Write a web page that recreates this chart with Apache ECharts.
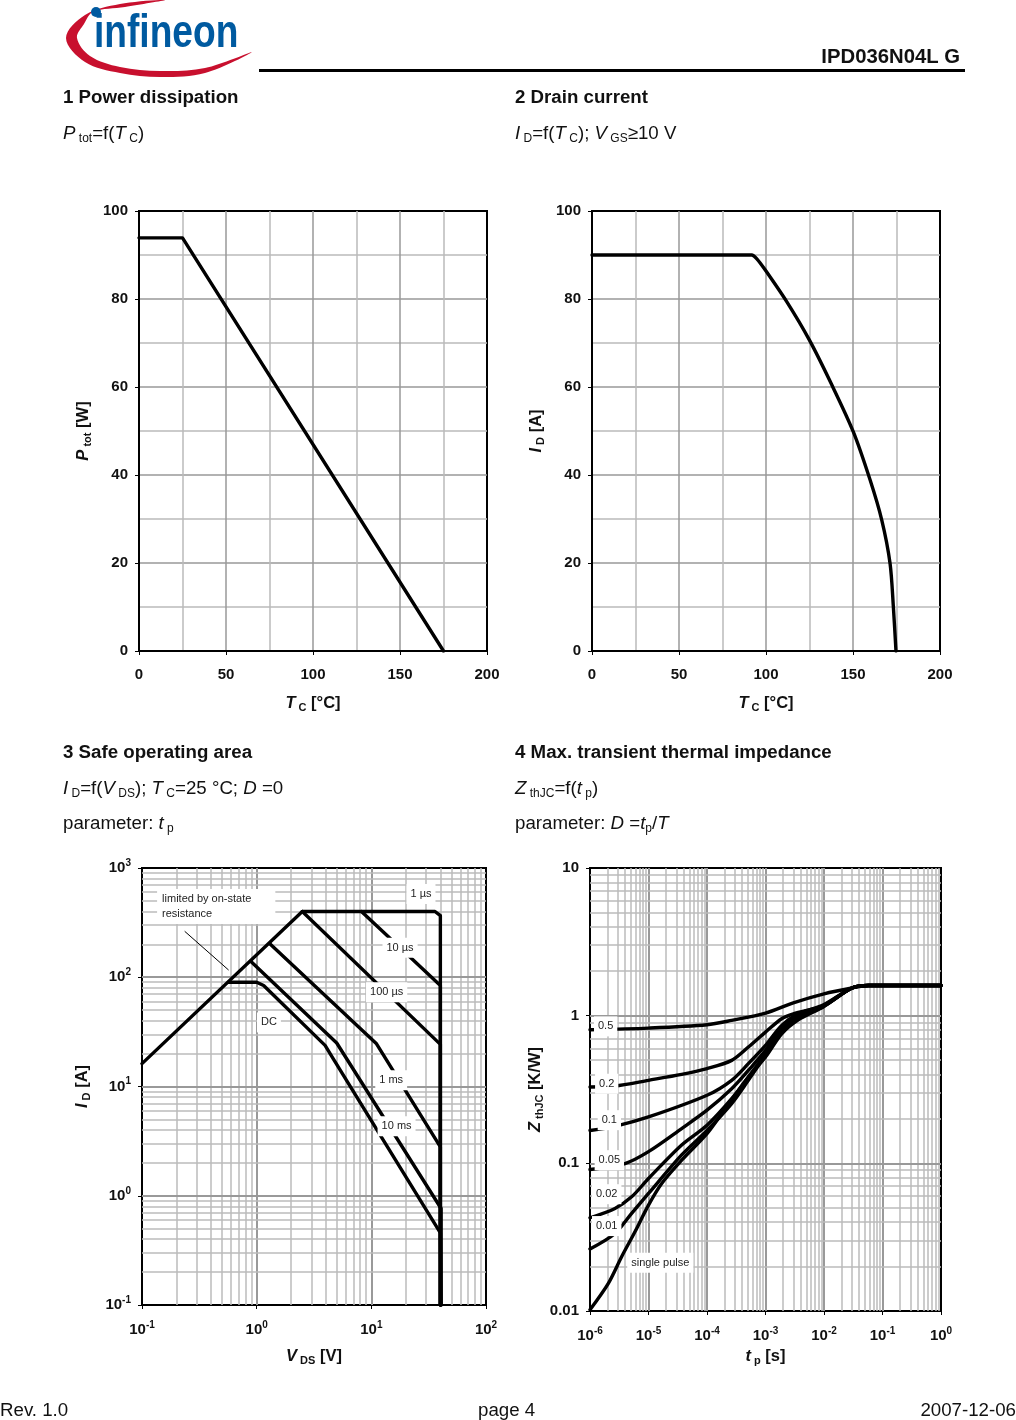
<!DOCTYPE html>
<html>
<head>
<meta charset="utf-8">
<style>
    html, body {margin: 0; padding: 0; background: #fff;}
    #chart {width: 1016px; height: 1420px;}
</style>
<script src="https://cdn.jsdelivr.net/npm/echarts@6/dist/echarts.min.js"></script>
</head>
<body>
<div id="chart"></div>
<script>
(function () {
    'use strict';

    // 1 power dissipation, [Tc, Ptot]
    var ptotCurve = [[0, 93.9], [25, 93.9], [175, 0]];
    // 2 drain current, [Tc, Id]
    var idCurve = [[0, 90], [91.8, 90], [94.6, 89.2], [99.4, 86.7], [111.9, 79.4], [124.9, 70.7],
        [137.8, 60.5], [150.2, 49.8], [159.8, 38.9], [166.5, 29.8], [171.3, 19.9], [173.2, 10], [174.7, 0]];

    // 3 safe operating area, [Vds, Id]
    var soaLimit = [[0.1, 16.2], [2.5, 400]];
    var soa1us = [[2.5, 400], [35.9, 400], [40, 366], [40, 0.1]];
    var soa10us = [[8.2, 400], [40, 84], [40, 0.1]];
    var soa100us = [[2.5, 400], [40, 24.3], [40, 0.1]];
    var soa1ms = [[1.31, 202], [11.1, 24.6], [40, 2.8], [40, 0.1]];
    var soa10ms = [[0.887, 140], [4.99, 25], [40.6, 0.764], [40.6, 0.1]];
    var soaDc = [[0.566, 90], [1, 90], [1.15, 84], [3.95, 23.8], [4.66, 17.9], [40, 0.458], [40.6, 0.1]];
    var soaPointer = [[0.237, 262], [0.566, 117]];
    var soaLabels = ['1 µs', '10 µs', '100 µs', '1 ms', '10 ms', 'DC'];
    var soaLabelPos = [[27.1, 578], [17.8, 186], [13.6, 73], [14.9, 11.4], [16.6, 4.33], [1.28, 38.6]];
    var soaNote = 'limited by on-state\nresistance';
    var soaNotePos = [0.134, 444];

    // 4 transient thermal impedance, [tp, Zth]
    var zth05 = [[1e-6, 0.803], [1e-5, 0.824], [1e-4, 0.868], [2.64e-4, 0.929], [1e-3, 1.041], [2.99e-3, 1.222],
        [1e-2, 1.406], [3.01e-2, 1.54], [5.73e-2, 1.6], [0.1, 1.6], [1, 1.6]];
    var zth02 = [[1e-6, 0.329], [2.67e-6, 0.334], [1e-5, 0.365], [3.69e-5, 0.4], [1e-4, 0.438], [2.64e-4, 0.498],
        [5.09e-4, 0.613], [1e-3, 0.774], [1.89e-3, 0.953], [2.99e-3, 1.03], [1e-2, 1.173], [3.01e-2, 1.54],
        [5.73e-2, 1.6], [0.1, 1.6], [1, 1.6]];
    var zth01 = [[1e-6, 0.167], [2.67e-6, 0.178], [1e-5, 0.206], [1e-4, 0.289], [2.64e-4, 0.365], [5.09e-4, 0.473],
        [1e-3, 0.629], [1.89e-3, 0.859], [3.64e-3, 1.03], [1e-2, 1.191], [3.01e-2, 1.54], [5.73e-2, 1.6], [0.1, 1.6], [1, 1.6]];
    var zth005 = [[1e-6, 0.0908], [3.96e-6, 0.0997], [1e-5, 0.12], [3.69e-5, 0.172], [1e-4, 0.229], [2.64e-4, 0.32],
        [5.09e-4, 0.426], [1e-3, 0.582], [1.89e-3, 0.837], [3.64e-3, 1.004], [1e-2, 1.173], [3.01e-2, 1.54],
        [5.73e-2, 1.6], [0.1, 1.6], [1, 1.6]];
    var zth002 = [[1e-6, 0.0428], [2.67e-6, 0.0495], [5.15e-6, 0.0593], [1e-5, 0.0789], [3.69e-5, 0.133], [1e-4, 0.181],
        [2.64e-4, 0.274], [5.09e-4, 0.384], [1e-3, 0.553], [1.89e-3, 0.795], [3.64e-3, 0.978], [1e-2, 1.173],
        [3.01e-2, 1.54], [5.73e-2, 1.6], [0.1, 1.6], [1, 1.6]];
    var zth001 = [[1e-6, 0.0263], [2.67e-6, 0.0335], [5.15e-6, 0.0458], [1e-5, 0.0625], [3.69e-5, 0.114], [1e-4, 0.167],
        [2.64e-4, 0.254], [5.09e-4, 0.365], [1e-3, 0.538], [1.89e-3, 0.774], [3.64e-3, 0.953], [1e-2, 1.161],
        [3.01e-2, 1.54], [5.73e-2, 1.6], [0.1, 1.6], [1, 1.6]];
    var zthSingle = [[1e-6, 0.0102], [2.06e-6, 0.0154], [3.47e-6, 0.0233], [5.87e-6, 0.0344], [1e-5, 0.0521], [1.68e-5, 0.073],
        [3.69e-5, 0.105], [1e-4, 0.159], [1.78e-4, 0.217], [3.01e-4, 0.289], [5.09e-4, 0.384], [1e-3, 0.525],
        [1.89e-3, 0.754], [3.64e-3, 0.938], [1e-2, 1.155], [3.01e-2, 1.54], [5.73e-2, 1.6], [0.1, 1.6], [1, 1.6]];
    var zthCurves = [zth05, zth02, zth01, zth005, zth002, zth001, zthSingle];
    var zthLabels = ['0.5', '0.2', '0.1', '0.05', '0.02', '0.01', 'single pulse'];
    var zthLabelPos = [[1.85e-6, 0.846], [1.93e-6, 0.346], [2.14e-6, 0.196], [2.14e-6, 0.105],
        [1.93e-6, 0.0618], [1.93e-6, 0.0376], [1.59e-5, 0.0212]];

    var FONT = '"Liberation Sans", Arial, sans-serif';
    var MAJOR = '#999999';
    var MINOR = '#bbbbbb';
    var CURVE_WIDTH = 3.4;

    var nameRich = {
        b: {fontFamily: FONT, fontSize: 16.5, fontWeight: 'bold', lineHeight: 20, color: '#111'},
        i: {fontFamily: FONT, fontSize: 16.5, fontWeight: 'bold', fontStyle: 'italic', lineHeight: 20, color: '#111'},
        s: {fontFamily: FONT, fontSize: 11, fontWeight: 'bold', lineHeight: 13, verticalAlign: 'bottom', color: '#111'}
    };
    var tickRich = {
        b: {fontFamily: FONT, fontSize: 15, fontWeight: 'bold', lineHeight: 20, color: '#111'},
        p: {fontFamily: FONT, fontSize: 10, fontWeight: 'bold', lineHeight: 12, verticalAlign: 'top', color: '#111'}
    };
    var headRich = {
        r: {fontFamily: FONT, fontSize: 18.7, fontWeight: 'normal', lineHeight: 22, color: '#111'},
        i: {fontFamily: FONT, fontSize: 18.7, fontWeight: 'normal', fontStyle: 'italic', lineHeight: 22, color: '#111'},
        s: {fontFamily: FONT, fontSize: 12, fontWeight: 'normal', lineHeight: 13, verticalAlign: 'bottom', color: '#111'}
    };

    function powerLabel(value) {
        var exp = Math.round(Math.log(value) / Math.LN10);
        return '{b|10}{p|' + exp + '}';
    }

    function plainLabel(value) {
        var exp = Math.round(Math.log(value) / Math.LN10);
        return '{b|' + (exp < 0 ? value.toFixed(-exp) : Math.pow(10, exp)) + '}';
    }

    function buildAxis(gridIndex, cfg) {
        var axis = {
            gridIndex: gridIndex,
            type: cfg.log ? 'log' : 'value',
            min: cfg.min,
            max: cfg.max,
            name: cfg.name,
            nameLocation: 'middle',
            nameGap: cfg.nameGap,
            nameTextStyle: {rich: nameRich},
            axisLine: {show: true, onZero: false, lineStyle: {color: '#000', width: 2}},
            axisTick: {show: true, length: 4, lineStyle: {color: '#000', width: 1}},
            axisLabel: {
                margin: cfg.margin,
                hideOverlap: false,
                showMinLabel: true,
                showMaxLabel: true,
                formatter: cfg.formatter || '{b|{value}}',
                rich: tickRich
            }
        };
        if (cfg.log) {
            axis.logBase = 10;
            axis.splitLine = {show: false};
        } else {
            axis.interval = cfg.interval;
            axis.splitLine = {show: true, showMinLine: false, showMaxLine: false, lineStyle: {color: MAJOR, width: 1.5}};
            axis.minorTick = {show: false, splitNumber: 2};
            axis.minorSplitLine = {show: true, lineStyle: {color: MINOR, width: 1.5}};
        }
        return axis;
    }

    // the 2..9 lines of every decade, as plain segments through the axes
    function logGridSeries(gridIndex, xFrom, xTo, yFrom, yTo) {
        var xMin = Number('1e' + xFrom), xMax = Number('1e' + xTo);
        var yMin = Number('1e' + yFrom), yMax = Number('1e' + yTo);
        var lines = [];
        function addLines(from, to, makeCoords) {
            for (var d = from; d < to; d++) {
                for (var m = 1; m < 10; m++) {
                    if (m === 1 && d === from) {
                        continue;
                    }
                    lines.push({
                        coords: makeCoords(Number(m + 'e' + d)),
                        lineStyle: {color: m === 1 ? MAJOR : MINOR, width: m === 1 ? 2 : 1.5, opacity: 1, curveness: 0}
                    });
                }
            }
        }
        addLines(xFrom, xTo, function (v) {
            return [[v, yMin], [v, yMax]];
        });
        addLines(yFrom, yTo, function (v) {
            return [[xMin, v], [xMax, v]];
        });
        return {
            type: 'lines',
            coordinateSystem: 'cartesian2d',
            xAxisIndex: gridIndex,
            yAxisIndex: gridIndex,
            silent: true,
            z: 1,
            lineStyle: {opacity: 1},
            data: lines
        };
    }

    function curveSeries(gridIndex, data, width, smooth) {
        return {
            type: 'line',
            xAxisIndex: gridIndex,
            yAxisIndex: gridIndex,
            data: data,
            showSymbol: false,
            symbol: 'none',
            smooth: smooth ? 0.3 : false,
            lineStyle: {color: '#000', width: width, cap: 'round', join: 'round'},
            z: 3
        };
    }

    function labelSeries(gridIndex, names, positions) {
        var data = [];
        for (var i = 0; i < names.length; i++) {
            data.push({name: names[i], value: positions[i]});
        }
        return {
            type: 'scatter',
            xAxisIndex: gridIndex,
            yAxisIndex: gridIndex,
            symbolSize: 1,
            itemStyle: {color: 'transparent', opacity: 1},
            z: 5,
            data: data,
            label: {
                show: true,
                position: 'inside',
                formatter: '{b}',
                fontFamily: FONT,
                fontSize: 11,
                color: '#222',
                opacity: 1,
                backgroundColor: '#fff',
                padding: [5, 4, 4, 4]
            }
        };
    }

    function headText(left, top, text, style) {
        var item = {top: top, padding: 0, text: text, textStyle: style};
        if (left < 0) {
            item.right = -left - 1;
        } else {
            item.left = left;
        }
        return item;
    }

    var boldHead = {fontFamily: FONT, fontSize: 18.7, fontWeight: 'bold', color: '#111'};
    var partHead = {fontFamily: FONT, fontSize: 20.3, fontWeight: 'bold', color: '#111'};
    var plainFoot = {fontFamily: FONT, fontSize: 18.7, fontWeight: 'normal', color: '#111'};
    var richHead = {rich: headRich};

    var option = {
        animation: false,
        backgroundColor: '#fff',
        title: [
            headText(-57, 47, 'IPD036N04L G', partHead),
            headText(63, 88, '1 Power dissipation', boldHead),
            headText(63, 123, '{i|P}{s| tot}{r|=f(}{i|T}{s| C}{r|)}', richHead),
            headText(515, 88, '2 Drain current', boldHead),
            headText(515, 123, '{i|I}{s| D}{r|=f(}{i|T}{s| C}{r|); }{i|V}{s| GS}{r|≥10 V}', richHead),
            headText(63, 743, '3 Safe operating area', boldHead),
            headText(63, 778, '{i|I}{s| D}{r|=f(}{i|V}{s| DS}{r|); }{i|T}{s| C}{r|=25 °C; }{i|D}{r| =0}', richHead),
            headText(63, 813, '{r|parameter: }{i|t}{s| p}', richHead),
            headText(515, 743, '4 Max. transient thermal impedance', boldHead),
            headText(515, 778, '{i|Z}{s| thJC}{r|=f(}{i|t}{s| p}{r|)}', richHead),
            headText(515, 813, '{r|parameter: }{i|D}{r| =}{i|t}{s|p}{r|/}{i|T}', richHead),
            headText(0, 1401, 'Rev. 1.0', plainFoot),
            headText(478, 1401, 'page 4', plainFoot),
            headText(-1, 1401, '2007-12-06', plainFoot)
        ],
        grid: [
            {left: 139, top: 211, width: 348, height: 440, show: true, borderColor: '#000', borderWidth: 2, backgroundColor: 'transparent'},
            {left: 592, top: 211, width: 348, height: 440, show: true, borderColor: '#000', borderWidth: 2, backgroundColor: 'transparent'},
            {left: 142, top: 868, width: 344, height: 437, show: true, borderColor: '#000', borderWidth: 2, backgroundColor: 'transparent'},
            {left: 590, top: 868, width: 351, height: 443, show: true, borderColor: '#000', borderWidth: 2, backgroundColor: 'transparent'}
        ],
        xAxis: [
            buildAxis(0, {min: 0, max: 200, interval: 50, name: '{i|T}{s| C}{b| [°C]}', nameGap: 42, margin: 14}),
            buildAxis(1, {min: 0, max: 200, interval: 50, name: '{i|T}{s| C}{b| [°C]}', nameGap: 42, margin: 14}),
            buildAxis(2, {log: true, min: 0.1, max: 100, name: '{i|V}{s| DS}{b| [V]}', nameGap: 41, margin: 15, formatter: powerLabel}),
            buildAxis(3, {log: true, min: 1e-6, max: 1, name: '{i|t}{s| p}{b| [s]}', nameGap: 35, margin: 15, formatter: powerLabel})
        ],
        yAxis: [
            buildAxis(0, {min: 0, max: 100, interval: 20, name: '{i|P}{s| tot}{b| [W]}', nameGap: 46, margin: 11}),
            buildAxis(1, {min: 0, max: 100, interval: 20, name: '{i|I}{s| D}{b| [A]}', nameGap: 46, margin: 11}),
            buildAxis(2, {log: true, min: 0.1, max: 1000, name: '{i|I}{s| D}{b| [A]}', nameGap: 50, margin: 11, formatter: powerLabel}),
            buildAxis(3, {log: true, min: 0.01, max: 10, name: '{i|Z}{s| thJC}{b| [K/W]}', nameGap: 44, margin: 11, formatter: plainLabel})
        ],
        series: [
            curveSeries(0, ptotCurve, CURVE_WIDTH),
            curveSeries(1, idCurve, CURVE_WIDTH, true),
            logGridSeries(2, -1, 2, -1, 3),
            logGridSeries(3, -6, 0, -2, 1),
            curveSeries(2, soaLimit, CURVE_WIDTH),
            curveSeries(2, soa1us, CURVE_WIDTH),
            curveSeries(2, soa10us, CURVE_WIDTH),
            curveSeries(2, soa100us, CURVE_WIDTH),
            curveSeries(2, soa1ms, CURVE_WIDTH),
            curveSeries(2, soa10ms, CURVE_WIDTH),
            curveSeries(2, soaDc, CURVE_WIDTH),
            curveSeries(2, soaPointer, 1),
            labelSeries(2, soaLabels, soaLabelPos),
            {
                type: 'scatter',
                xAxisIndex: 2,
                yAxisIndex: 2,
                symbolSize: 1,
                itemStyle: {color: 'transparent', opacity: 1},
                z: 5,
                data: [{name: soaNote, value: soaNotePos}],
                label: {
                    show: true,
                    position: 'right',
                    distance: 0,
                    formatter: '{b}',
                    fontFamily: FONT,
                    fontSize: 11,
                    lineHeight: 15,
                    color: '#222',
                    opacity: 1,
                    backgroundColor: '#fff',
                    padding: [3, 24, 2, 5]
                }
            },
            labelSeries(3, zthLabels, zthLabelPos)
        ].concat(zthCurves.map(function (curve) {
            return curveSeries(3, curve, CURVE_WIDTH, true);
        })),
        graphic: [
            {
                type: 'polygon',
                shape: {
                    points: [[165, 0], [120, 4], [85, 15], [66, 38], [85, 62], [120, 73], [160, 77], [205, 73], [252, 52],
                        [205, 68], [160, 71], [120, 67], [90, 56], [77, 38], [84, 24], [93, 12], [125, 7]],
                    smooth: 0.35
                },
                style: {fill: '#c8102e'}
            },
            {
                type: 'text',
                x: 94,
                y: 11,
                scaleX: 0.79,
                style: {
                    text: 'infineon',
                    fontFamily: FONT,
                    fontSize: 47,
                    fontWeight: 'bold',
                    fill: '#005aa0'
                }
            },
            {type: 'circle', shape: {cx: 96, cy: 12, r: 5}, style: {fill: '#005aa0'}},
            {type: 'line', shape: {x1: 259, y1: 70.5, x2: 965, y2: 70.5}, style: {stroke: '#000', lineWidth: 3}}
        ]
    };

    var chart = echarts.init(document.getElementById('chart'), null, {renderer: 'canvas'});
    chart.setOption(option);
})();
</script>
</body>
</html>
